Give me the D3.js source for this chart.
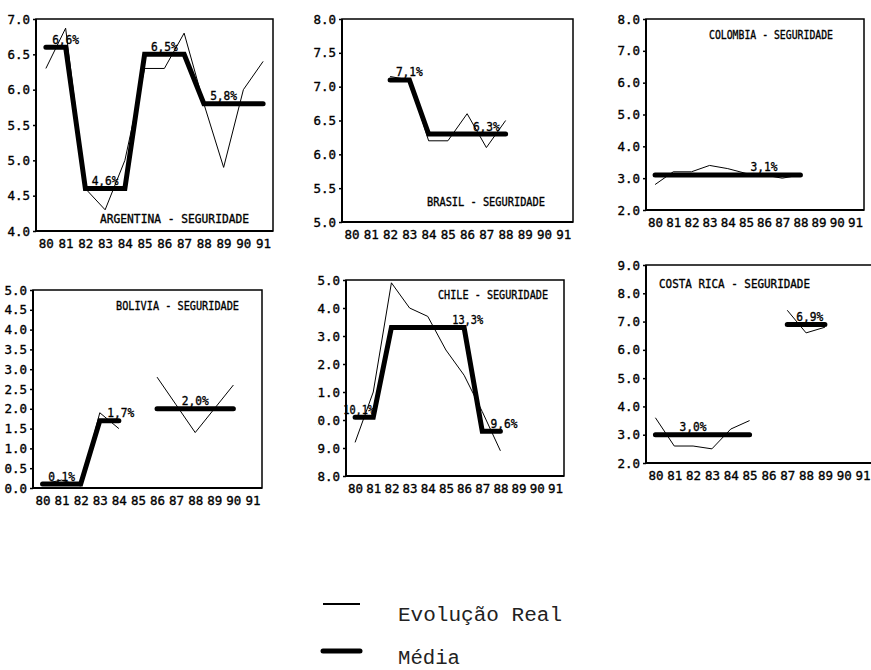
<!DOCTYPE html>
<html>
<head>
<meta charset="utf-8">
<script src="https://cdn.jsdelivr.net/npm/d3@7"></script>
<style>
  html, body { margin: 0; padding: 0; background: #fff; }
  svg { display: block; }
</style>
</head>
<body>
<svg id="chart" width="871" height="670"></svg>
<script>
// ---------------- DATA ----------------
const years = [80, 81, 82, 83, 84, 85, 86, 87, 88, 89, 90, 91];
const panelTitles = ["ARGENTINA - SEGURIDADE", "BRASIL - SEGURIDADE", "COLOMBIA - SEGURIDADE",
                     "BOLIVIA - SEGURIDADE", "CHILE - SEGURIDADE", "COSTA RICA - SEGURIDADE"];
const yDomains = [[4, 7], [5, 8], [2, 8], [0, 5], [8, 15], [2, 9]];
const yTickSteps = [0.5, 0.5, 1, 0.5, 1, 1];

// Evolução real (one value per year, null = no data)
const argentinaReal = [6.3, 6.87, 4.6, 4.3, 5.0, 6.3, 6.3, 6.8, 5.8, 4.9, 6.0, 6.4];
const brasilReal    = [null, null, 7.15, 7.1, 6.2, 6.2, 6.6, 6.1, 6.5, null, null, null];
const colombiaReal  = [2.8, 3.2, 3.2, 3.4, 3.3, 3.15, 3.1, 3.0, 3.1, null, null, null];
const boliviaReal   = [0.1, 0.2, 0.05, 1.9, 1.5, null, 2.8, 2.1, 1.4, 2.0, 2.6, null];
const chileReal     = [9.2, 11.0, 14.9, 14.0, 13.7, 12.5, 11.6, 10.3, 8.9, null, null, null];
const costaRicaReal = [3.6, 2.6, 2.6, 2.5, 3.2, 3.5, null, 7.4, 6.6, 6.8, null, null];

// Média (per year)
const argentinaMean = [6.6, 6.6, 4.6, 4.6, 4.6, 6.5, 6.5, 6.5, 5.8, 5.8, 5.8, 5.8];
const brasilMean    = [null, null, 7.1, 7.1, 6.3, 6.3, 6.3, 6.3, 6.3, null, null, null];
const colombiaMean  = [3.1, 3.1, 3.1, 3.1, 3.1, 3.1, 3.1, 3.1, 3.1, null, null, null];
const boliviaMean   = [0.1, 0.1, 0.1, 1.7, 1.7, null, 2.0, 2.0, 2.0, 2.0, 2.0, null];
const chileMean     = [10.1, 10.1, 13.3, 13.3, 13.3, 13.3, 13.3, 9.6, 9.6, null, null, null];
const costaRicaMean = [3.0, 3.0, 3.0, 3.0, 3.0, 3.0, null, 6.9, 6.9, 6.9, null, null];

// Mean labels: [text, year, value]
const argentinaLabels = [["6,6%", 81, 6.6], ["4,6%", 83, 4.6], ["6,5%", 86, 6.5], ["5,8%", 89, 5.8]];
const brasilLabels    = [["7,1%", 83, 7.1], ["6,3%", 87, 6.3]];
const colombiaLabels  = [["3,1%", 86, 3.1]];
const boliviaLabels   = [["0,1%", 81, 0.1], ["1,7%", 84.1, 1.7], ["2,0%", 88, 2.0]];
const chileLabels     = [["10,1%", 80.2, 10.1], ["13,3%", 86.2, 13.3], ["9,6%", 88.2, 9.6]];
const costaRicaLabels = [["3,0%", 82, 3.0], ["6,9%", 88.2, 6.9]];

const legendLabels = ["Evolução Real", "Média"];

const realSeries  = [argentinaReal, brasilReal, colombiaReal, boliviaReal, chileReal, costaRicaReal];
const meanSeries  = [argentinaMean, brasilMean, colombiaMean, boliviaMean, chileMean, costaRicaMean];
const labelSeries = [argentinaLabels, brasilLabels, colombiaLabels, boliviaLabels, chileLabels, costaRicaLabels];

// ---------------- LAYOUT ----------------
const layout = [
  {x0: 36,  x1: 273, y0: 19,  y1: 231, tx: 100, ty: 223, tw: 149},
  {x0: 342, x1: 573, y0: 19,  y1: 222, tx: 427, ty: 206, tw: 118},
  {x0: 646, x1: 864, y0: 19,  y1: 210, tx: 709, ty: 39,  tw: 124},
  {x0: 33,  x1: 262, y0: 290, y1: 488, tx: 116, ty: 310, tw: 123},
  {x0: 346, x1: 564, y0: 280, y1: 476, tx: 438, ty: 299, tw: 110, clipLeft: 317},
  {x0: 646, x1: 872, y0: 265, y1: 463, tx: 659, ty: 288, tw: 151}
];
const FONT = "'DejaVu Sans Mono', monospace";

const svg = d3.select("#chart");
const defs = svg.append("defs");

function styleText(sel) {
  sel.attr("fill", "#000")
     .attr("stroke", "#000").attr("stroke-width", 0.35)
     .style("font-family", FONT).style("font-size", "12.5px");
}

layout.forEach((L, i) => {
  const g = svg.append("g");
  const x = d3.scaleLinear().domain([79.5, 91.5]).range([L.x0, L.x1]);
  const y = d3.scaleLinear().domain(yDomains[i]).range([L.y1, L.y0]);
  const [lo, hi] = yDomains[i];
  const step = yTickSteps[i];
  const yTicks = d3.range(0, Math.round((hi - lo) / step) + 1).map(k => +(lo + k * step).toFixed(2));

  // frame
  g.append("rect")
    .attr("x", L.x0).attr("y", L.y0)
    .attr("width", L.x1 - L.x0).attr("height", L.y1 - L.y0)
    .attr("fill", "none").attr("stroke", "#000").attr("stroke-width", 1.5);

  // y axis
  const yAxisG = g.append("g")
    .attr("transform", `translate(${L.x0},0)`)
    .call(d3.axisLeft(y).tickValues(yTicks).tickFormat(d3.format(".1f")).tickSize(3).tickPadding(3));
  if (L.clipLeft !== undefined) {
    const id = "clip" + i;
    defs.append("clipPath").attr("id", id)
      .append("rect").attr("x", L.clipLeft - L.x0).attr("y", -10).attr("width", 900).attr("height", 700);
    yAxisG.attr("clip-path", `url(#${id})`);
  }
  // x axis
  const xAxisG = g.append("g")
    .attr("transform", `translate(0,${L.y1})`)
    .call(d3.axisBottom(x).tickValues(years).tickFormat(d => String(d)).tickSize(0).tickPadding(8));

  [yAxisG, xAxisG].forEach(a => {
    a.select(".domain").attr("stroke", "#000").attr("stroke-width", 2);
    a.selectAll(".tick line").attr("stroke", "#000").attr("stroke-width", 1.5);
    styleText(a.selectAll("text"));
  });
  yAxisG.select(".domain").attr("d", `M0,${L.y0}V${L.y1}`);
  xAxisG.select(".domain").attr("d", `M${L.x0},0H${L.x1}`);

  // real line (thin)
  const real = years.map((yr, k) => ({yr, v: realSeries[i][k]}));
  g.append("path")
    .datum(real)
    .attr("fill", "none").attr("stroke", "#000").attr("stroke-width", 1)
    .attr("d", d3.line().defined(d => d.v !== null).x(d => x(d.yr)).y(d => y(d.v)));

  // mean line (thick)
  const mean = years.map((yr, k) => ({yr, v: meanSeries[i][k]}));
  g.append("path")
    .datum(mean)
    .attr("fill", "none").attr("stroke", "#000").attr("stroke-width", 5)
    .attr("stroke-linecap", "round").attr("stroke-linejoin", "miter")
    .attr("d", d3.line().defined(d => d.v !== null).x(d => x(d.yr)).y(d => y(d.v)));

  // mean labels
  const lbl = g.selectAll("text.lbl").data(labelSeries[i]).enter().append("text")
    .attr("class", "lbl")
    .attr("x", d => x(d[1])).attr("y", d => y(d[2]) - 3.5)
    .attr("text-anchor", "middle")
    .attr("textLength", d => d[0].length > 4 ? 31 : 27).attr("lengthAdjust", "spacingAndGlyphs")
    .text(d => d[0]);
  styleText(lbl);

  // title
  const t = g.append("text")
    .attr("x", L.tx).attr("y", L.ty)
    .attr("textLength", L.tw).attr("lengthAdjust", "spacingAndGlyphs")
    .text(panelTitles[i]);
  styleText(t);
});

// ---------------- LEGEND ----------------
const leg = svg.append("g");
const legendItems = [
  {label: legendLabels[0], width: 2, ly: 604, ty: 621, tw: 164},
  {label: legendLabels[1], width: 5, ly: 651, ty: 664, tw: 62}
];
legendItems.forEach(it => {
  leg.append("line")
    .attr("x1", 323).attr("x2", 360).attr("y1", it.ly).attr("y2", it.ly)
    .attr("stroke", "#000").attr("stroke-width", it.width)
    .attr("stroke-linecap", it.width > 2 ? "round" : "butt");
  leg.append("text")
    .attr("x", 398).attr("y", it.ty)
    .attr("fill", "#222")
    .style("font-family", "'Liberation Mono', 'Courier New', monospace")
    .style("font-size", "20px")
    .attr("textLength", it.tw).attr("lengthAdjust", "spacingAndGlyphs")
    .text(it.label);
});
</script>
</body>
</html>
